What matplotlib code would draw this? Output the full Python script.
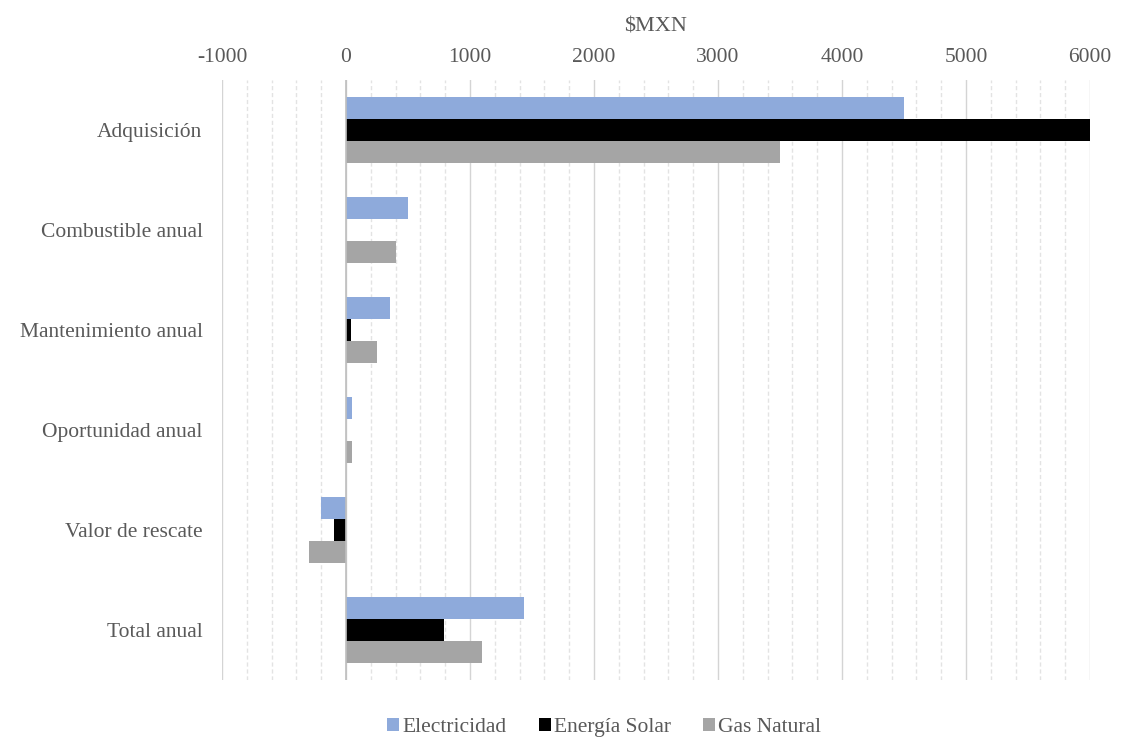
import matplotlib
matplotlib.use("Agg")
import matplotlib.pyplot as plt
import numpy as np

plt.rcParams['font.family'] = ['Liberation Serif', 'DejaVu Serif']

categories = ["Adquisición", "Combustible anual", "Mantenimiento anual",
              "Oportunidad anual", "Valor de rescate", "Total anual"]
series_names = ["Electricidad", "Energía Solar", "Gas Natural"]
electricidad = [4500, 500, 355, 45, -200, 1435]
energia_solar = [6000, 0, 40, 0, -100, 790]
gas_natural = [3500, 400, 250, 45, -300, 1100]
x_ticks = [-1000, 0, 1000, 2000, 3000, 4000, 5000, 6000]

colors = ["#8eaadb", "#000000", "#a5a5a5"]
text_color = "#595959"

fig = plt.figure(figsize=(11.36, 7.38), dpi=100)
ax = fig.add_axes([0.1954, 0.0786, 0.7641, 0.813])

y = np.arange(len(categories))
h = 0.22
for k, (vals, c, name) in enumerate(zip([electricidad, energia_solar, gas_natural], colors, series_names)):
    ax.barh(y + (k - 1) * h, vals, height=h, color=c, label=name, zorder=3)

ax.set_xlim(-1000, 6000)
ax.set_ylim(len(categories) - 0.5, -0.5)

# gridlines: major every 1000, minor every 200
for v in np.arange(-1000, 6001, 200):
    if v % 1000 == 0:
        ax.axvline(v, color="#d4d4d4", lw=1.0, zorder=1)
    else:
        ax.axvline(v, color="#e3e3e3", lw=1.0, ls=(0, (3, 2)), zorder=1)
ax.axvline(0, color="#bfbfbf", lw=1.2, zorder=4)

ax.xaxis.tick_top()
ax.xaxis.set_label_position("top")
ax.set_xticks(x_ticks)
ax.set_xticklabels([str(t) for t in x_ticks])
ax.set_yticks(y)
ax.set_yticklabels(categories)
ax.tick_params(axis="both", length=0, labelsize=15.5, colors=text_color)
ax.tick_params(axis="x", pad=9)
ax.tick_params(axis="y", pad=14)
ax.set_xlabel(r"\$MXN", fontsize=16, color=text_color, labelpad=12)

for s in ax.spines.values():
    s.set_visible(False)

leg = fig.legend(loc="lower center", bbox_to_anchor=(0.532, -0.025), ncol=3, frameon=False,
                 fontsize=15.5, handlelength=0.55, handleheight=0.55, handletextpad=0.15,
                 columnspacing=1.5)
for t in leg.get_texts():
    t.set_color(text_color)

fig.savefig("out.png", dpi=100)
